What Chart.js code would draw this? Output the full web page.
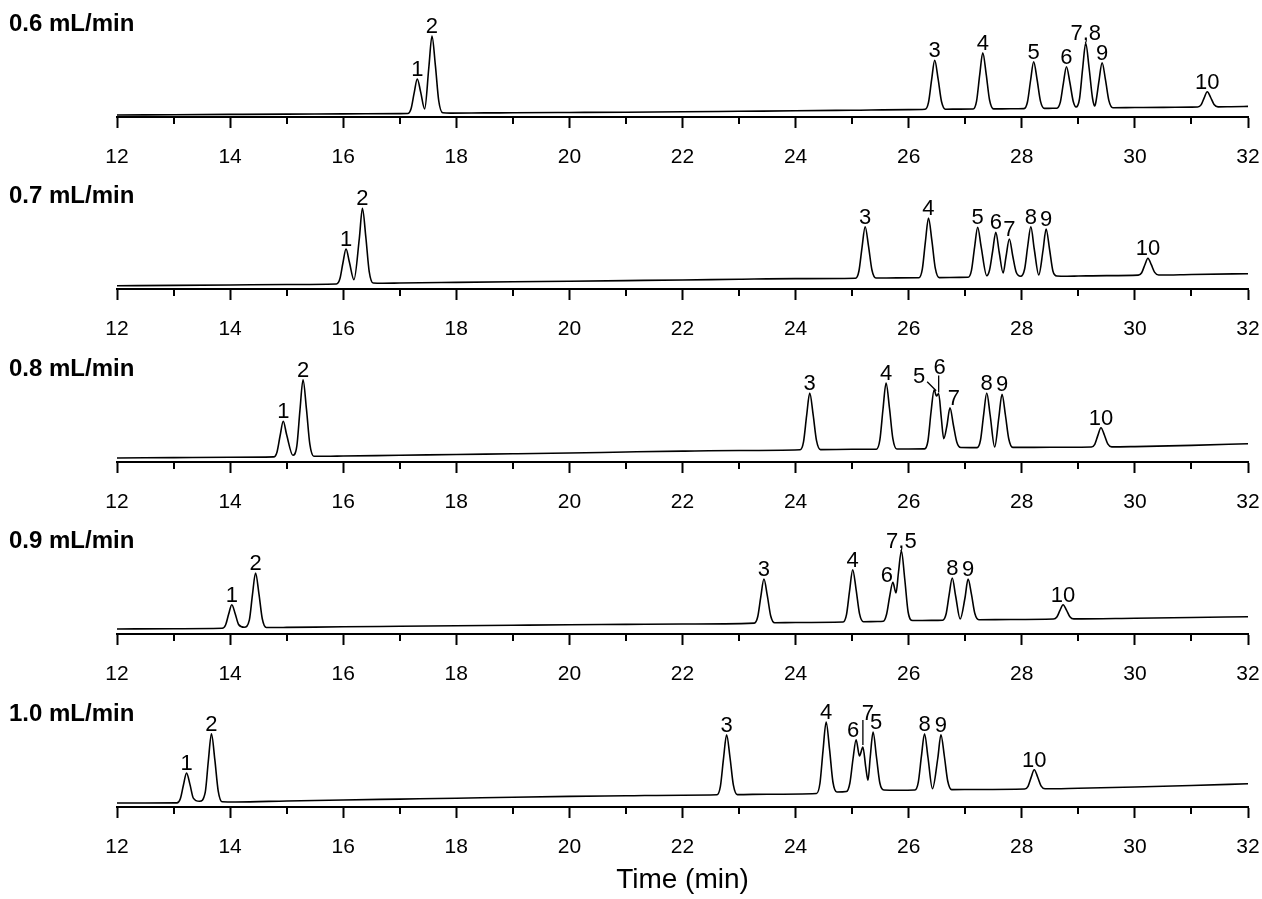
<!DOCTYPE html>
<html lang="en">
<head>
  <meta charset="UTF-8">
  <title>Chromatograms at different flow rates</title>
  <script src="https://cdn.jsdelivr.net/npm/chart.js"></script>
  <style>
    body {
      margin: 0;
      background: #fff;
      font-family: "Liberation Sans", Arial, sans-serif;
    }
    #wrap {
      position: relative;
      width: 1262px;
      height: 899px;
      overflow: hidden;
      background: #fff;
    }
    .panel {
      position: absolute;
      left: 0;
    }
  </style>
</head>
<body>
  <div id="wrap"></div>

  <script>
    // flow rates (one chromatogram each) and axis ticks
    const flowRates = ['0.6 mL/min', '0.7 mL/min', '0.8 mL/min', '0.9 mL/min', '1.0 mL/min'];
    const majorTicks = [12, 14, 16, 18, 20, 22, 24, 26, 28, 30, 32];
    const minorTicks = [13, 15, 17, 19, 21, 23, 25, 27, 29, 31];

    // detector traces: [time (min), signal]
    const trace06 = [
      [12, 2.0], [13, 2.3], [14, 2.6], [15, 2.9], [16, 3.1], [17, 3.4],
      [17.14, 3.5], [17.2, 8.3], [17.255, 24.2], [17.31, 38], [17.37, 24.9], [17.44, 8.0],
      [17.515, 50], [17.57, 81], [17.63, 51.6], [17.69, 16], [17.76, 4.2], [17.9, 3.9],
      [18.5, 4.1], [19, 4.2], [20, 4.5], [21, 4.8], [22, 5.2], [23, 5.7], [24, 6.2], [25, 6.8], [26, 7.4],
      [26.29, 7.7], [26.35, 14.6], [26.405, 37.1], [26.46, 56.7], [26.52, 38.1], [26.58, 15.5], [26.65, 7.8],
      [26.9, 7.9], [27.14, 8.0], [27.2, 15.9], [27.255, 41.8], [27.31, 64.3], [27.37, 42.9], [27.43, 17], [27.5, 8.1],
      [27.8, 8.2], [28.04, 8.4], [28.1, 15], [28.155, 36.5], [28.21, 55.3], [28.27, 37.5], [28.33, 15.9], [28.4, 8.6],
      [28.55, 8.7], [28.62, 8.8], [28.68, 14.6], [28.735, 33.7], [28.79, 50.3], [28.85, 34.5], [28.91, 15.5], [28.96, 10.0],
      [29.02, 18], [29.075, 47.8], [29.13, 73.7], [29.19, 49], [29.25, 19], [29.29, 11],
      [29.31, 15], [29.365, 36.2], [29.42, 54.3], [29.48, 37.1], [29.54, 16.4], [29.61, 9.3],
      [30, 9.5], [30.5, 9.6], [31, 9.9], [31.11, 10], [31.17, 12.1], [31.225, 19.2], [31.28, 25.3], [31.34, 19.5],
      [31.4, 12.5], [31.47, 10.1], [31.7, 10.3], [32, 10.6]
    ];
    const trace07 = [
      [12, 3.3], [13, 3.6], [14, 4.0], [15, 4.5], [15.88, 5.0],
      [15.94, 9.9], [15.995, 26], [16.05, 40], [16.11, 26.7], [16.19, 9.3],
      [16.285, 50.5], [16.34, 80.7], [16.4, 52], [16.46, 17.4], [16.53, 6], [16.7, 5.8],
      [17, 6], [18, 6.6], [19, 7.2], [20, 7.8], [21, 8.4], [22, 9], [23, 9.8], [24, 10.4],
      [25.06, 10.8], [25.12, 18], [25.175, 41.7], [25.23, 62.3], [25.29, 42.7], [25.35, 19], [25.42, 11],
      [25.8, 11.1], [26.18, 11.2], [26.24, 19.6], [26.295, 47.1], [26.35, 71], [26.41, 48.3], [26.47, 20.8], [26.54, 11.4],
      [26.9, 11.6], [27.05, 11.7], [27.11, 18.7], [27.165, 41.7], [27.22, 61.7], [27.28, 42.7], [27.38, 13.3],
      [27.43, 19], [27.485, 38], [27.54, 56.7], [27.6, 37], [27.67, 16],
      [27.72, 32], [27.78, 50], [27.84, 33], [27.9, 17], [27.98, 12.7],
      [28.05, 20], [28.105, 43], [28.16, 62.3], [28.22, 40], [28.3, 14],
      [28.375, 38.5], [28.43, 60], [28.49, 40], [28.55, 18], [28.62, 13], [28.8, 12.8],
      [29, 13], [29.5, 13.4], [30.06, 13.9], [30.12, 16.3], [30.175, 24], [30.23, 30.7], [30.29, 24.3],
      [30.35, 16.6], [30.42, 14], [31, 14.5], [32, 15.3]
    ];
    const trace08 = [
      [12, 4], [13, 4.4], [14, 4.8], [14.77, 5.1],
      [14.83, 10.1], [14.885, 26.5], [14.94, 40.7], [15.0, 27.2], [15.11, 6.7],
      [15.18, 16], [15.235, 51.6], [15.29, 82.3], [15.35, 53.1], [15.41, 17.8], [15.48, 5.8], [15.7, 5.7],
      [16, 6], [17, 6.7], [18, 7.5], [19, 8.2], [20, 9], [21, 10], [22, 10.9], [23, 11.5],
      [24.08, 12.2], [24.14, 20.2], [24.195, 46.3], [24.25, 69], [24.31, 47.4], [24.37, 21.3], [24.44, 12.4],
      [25, 12.7], [25.43, 12.8], [25.49, 22.1], [25.545, 52.5], [25.6, 79], [25.66, 53.8], [25.72, 23.4], [25.79, 13],
      [26, 13], [26.28, 13.1], [26.34, 21], [26.395, 50], [26.45, 72.3], [26.49, 66], [26.53, 68.5],
      [26.575, 45], [26.62, 23.3], [26.675, 36], [26.73, 54.3], [26.79, 37], [26.85, 20], [26.92, 14.5],
      [27.1, 14.4], [27.21, 14.4], [27.27, 22], [27.325, 47.2], [27.38, 69], [27.44, 47], [27.52, 15],
      [27.595, 45], [27.65, 67.7], [27.71, 47], [27.77, 23], [27.84, 14.6],
      [28.2, 14.6], [28.8, 14.8], [29.23, 15], [29.29, 17.7], [29.345, 26.6], [29.4, 34.3], [29.46, 27],
      [29.52, 18.1], [29.59, 15.1], [30, 15.4], [31, 16.6], [32, 18.3]
    ];
    const trace09 = [
      [12, 5], [13, 5.3], [13.86, 5.7],
      [13.92, 9], [13.975, 19.9], [14.03, 29.3], [14.09, 20.3], [14.15, 9.5], [14.25, 6.7],
      [14.34, 13.9], [14.395, 39.1], [14.45, 61], [14.51, 40.2], [14.57, 15], [14.64, 6.5], [14.8, 6.5],
      [15, 6.6], [16, 7.2], [17, 7.7], [18, 8.2], [19, 8.7], [20, 9.2], [21, 9.6], [22, 10],
      [23.27, 10.9], [23.33, 17.2], [23.385, 37.4], [23.44, 55], [23.5, 38.3], [23.56, 18], [23.63, 11.2],
      [24, 11.5], [24.84, 12], [24.9, 19.3], [24.955, 43.4], [25.01, 64.3], [25.07, 44.4], [25.13, 20.4], [25.2, 12.3],
      [25.45, 12.5], [25.55, 12.7], [25.61, 20], [25.665, 38], [25.72, 51.7], [25.775, 41],
      [25.82, 62], [25.87, 83.3], [25.93, 55], [25.99, 22], [26.07, 13.5],
      [26.4, 13.6], [26.6, 13.8], [26.66, 19.7], [26.715, 39.1], [26.77, 56], [26.83, 38], [26.91, 15],
      [26.995, 36], [27.05, 55], [27.11, 39.6], [27.17, 20.5], [27.24, 14.3],
      [27.8, 14.5], [28.56, 15], [28.62, 17], [28.675, 23.6], [28.73, 29.3], [28.79, 23.9], [28.85, 17.3],
      [28.92, 15.1], [30, 15.8], [31, 16.5], [32, 17.3]
    ];
    const trace10 = [
      [12, 4], [12.5, 4], [13.06, 4.1],
      [13.12, 8.3], [13.175, 22], [13.23, 34], [13.29, 22.6], [13.35, 8.9], [13.46, 5.7],
      [13.56, 14.6], [13.615, 46], [13.67, 73.3], [13.73, 47.3], [13.79, 15.9], [13.86, 5.2], [14.1, 5],
      [15, 6], [16, 7], [17, 7.9], [18, 8.8], [19, 9.8], [20, 10.6], [21, 11.2], [22, 11.8],
      [22.61, 12.2], [22.67, 20.6], [22.725, 48.3], [22.78, 72.3], [22.84, 49.5], [22.9, 21.8], [22.97, 12.4],
      [23.5, 12.8], [24.37, 13.5], [24.43, 23.5], [24.485, 56.4], [24.54, 85], [24.6, 57.8], [24.66, 25], [24.73, 15],
      [24.9, 15.5], [24.96, 24], [25.015, 48], [25.07, 67.3], [25.13, 51], [25.19, 60], [25.24, 40], [25.28, 26.7],
      [25.32, 50], [25.37, 75], [25.43, 50], [25.49, 24], [25.56, 17],
      [25.8, 16.8], [26.11, 17], [26.17, 24.9], [26.225, 50.8], [26.28, 73.3], [26.34, 50], [26.42, 18.3],
      [26.515, 49], [26.57, 72.3], [26.63, 51], [26.69, 26], [26.76, 17.4],
      [27.2, 17.5], [28.05, 18], [28.11, 20.7], [28.165, 29.6], [28.22, 37.3], [28.28, 30], [28.34, 21.1],
      [28.41, 18.2], [29, 18.8], [30, 20], [31, 21.5], [32, 23.3]
    ];

    // peak labels: [text, time of apex, signal at apex]
    const peaks06 = [['1', 17.31, 38], ['2', 17.57, 81], ['3', 26.46, 56.7], ['4', 27.31, 64.3], ['5', 28.21, 55.3],
      ['6', 28.79, 50.3], ['7,8', 29.13, 73.7], ['9', 29.42, 54.3], ['10', 31.28, 25.3]];
    const peaks07 = [['1', 16.05, 40], ['2', 16.34, 80.7], ['3', 25.23, 62.3], ['4', 26.35, 71], ['5', 27.22, 61.7],
      ['6', 27.54, 56.7], ['7', 27.78, 50], ['8', 28.16, 62.3], ['9', 28.43, 60], ['10', 30.23, 30.7]];
    const peaks08 = [['1', 14.94, 40.7], ['2', 15.29, 82.3], ['3', 24.25, 69], ['4', 25.6, 79], ['5', 26.45, 72.3],
      ['6', 26.53, 68.5], ['7', 26.73, 54.3], ['8', 27.38, 69], ['9', 27.65, 67.7], ['10', 29.4, 34.3]];
    const peaks09 = [['1', 14.03, 29.3], ['2', 14.45, 61], ['3', 23.44, 55], ['4', 25.01, 64.3], ['6', 25.72, 51.7],
      ['7,5', 25.87, 83.3], ['8', 26.77, 56], ['9', 27.05, 55], ['10', 28.73, 29.3]];
    const peaks10 = [['1', 13.23, 34], ['2', 13.67, 73.3], ['3', 22.78, 72.3], ['4', 24.54, 85], ['6', 25.07, 67.3],
      ['7', 25.19, 60], ['5', 25.37, 75], ['8', 26.28, 73.3], ['9', 26.57, 72.3], ['10', 28.22, 37.3]];

    const traces = [trace06, trace07, trace08, trace09, trace10];
    const peakSets = [peaks06, peaks07, peaks08, peaks09, peaks10];

    // pixel nudges for crowded labels (label centre offset, optional leader line)
    const nudges = {
      '2|5': { dx: -15, dy: -15, line: [-7, -8, 2, 1] },
      '2|6': { dx: 1, dy: -28, line: [0, -18, 0, -1] },
      '2|7': { dx: 4, dy: -11 },
      '3|6': { dx: -6, dy: -8 },
      '4|7': { dx: 5, dy: -35, line: [0, -27, 0, -2] },
      '4|6': { dx: -3, dy: -11 },
      '4|5': { dx: 3, dy: -11 }
    };

    const axisY = [116.5, 289.1, 461.7, 634.3, 806.9];
    const FONT = '"Liberation Sans", Arial, sans-serif';

    // draws minor ticks, the flow-rate label and the peak numbers
    const decorPlugin = {
      id: 'decor',
      afterDraw(chart) {
        const idx = chart.options.plugins.decor.index;
        const ctx = chart.ctx;
        const xs = chart.scales.x;
        const ys = chart.scales.y;
        const bottom = chart.chartArea.bottom;
        ctx.save();
        ctx.strokeStyle = '#000';
        ctx.lineWidth = 2;
        minorTicks.forEach(v => {
          const px = Math.round(xs.getPixelForValue(v));
          ctx.beginPath();
          ctx.moveTo(px, bottom);
          ctx.lineTo(px, bottom + 7);
          ctx.stroke();
        });

        ctx.fillStyle = '#000';
        ctx.font = 'bold 24px ' + FONT;
        ctx.textAlign = 'left';
        ctx.textBaseline = 'alphabetic';
        ctx.fillText(flowRates[idx], 9, bottom - 86);

        ctx.font = '22px ' + FONT;
        ctx.textAlign = 'center';
        ctx.lineWidth = 1.3;
        peakSets[idx].forEach(([txt, t, v]) => {
          const px = xs.getPixelForValue(t);
          const py = ys.getPixelForValue(v);
          const n = nudges[idx + '|' + txt];
          if (n) {
            ctx.fillText(txt, px + n.dx, py + n.dy + 8);
            if (n.line) {
              ctx.beginPath();
              ctx.moveTo(px + n.line[0], py + n.line[1]);
              ctx.lineTo(px + n.line[2], py + n.line[3]);
              ctx.stroke();
            }
          } else {
            ctx.fillText(txt, px, py - 3);
          }
        });
        ctx.restore();
      }
    };

    const wrap = document.getElementById('wrap');
    traces.forEach((trace, i) => {
      const last = i === traces.length - 1;
      const scaleH = last ? 90 : 55;
      const canvas = document.createElement('canvas');
      canvas.className = 'panel';
      canvas.width = 1262;
      canvas.height = 117 + scaleH;
      canvas.style.top = (axisY[i] - 117) + 'px';
      wrap.appendChild(canvas);

      new Chart(canvas.getContext('2d'), {
        type: 'line',
        data: {
          datasets: [{
            data: trace.map(([t, s]) => ({ x: t, y: s })),
            borderColor: '#000',
            borderWidth: 1.6,
            pointRadius: 0,
            cubicInterpolationMode: 'monotone',
            fill: false,
            clip: false
          }]
        },
        options: {
          responsive: false,
          animation: false,
          devicePixelRatio: 1,
          layout: { padding: { left: 117, right: 14, top: 7, bottom: 0 } },
          plugins: {
            legend: { display: false },
            tooltip: { enabled: false },
            decor: { index: i }
          },
          scales: {
            x: {
              type: 'linear',
              min: 12,
              max: 32,
              afterBuildTicks: s => { s.ticks = majorTicks.map(v => ({ value: v })); },
              afterFit: s => {
                s.height = scaleH;
                s.paddingLeft = 0;
                s.paddingRight = 0;
              },
              ticks: {
                color: '#000',
                font: { size: 21, family: FONT },
                padding: 17,
                maxRotation: 0,
                autoSkip: false
              },
              grid: {
                drawOnChartArea: false,
                drawTicks: true,
                tickLength: 11,
                tickWidth: 2,
                tickColor: '#000'
              },
              border: { display: true, color: '#000', width: 2 },
              title: {
                display: last,
                text: 'Time (min)',
                color: '#000',
                font: { size: 28, family: FONT },
                padding: { top: 0, bottom: 0 }
              }
            },
            y: {
              display: false,
              min: 0,
              max: 110
            }
          }
        },
        plugins: [decorPlugin]
      });
    });
  </script>
</body>
</html>
